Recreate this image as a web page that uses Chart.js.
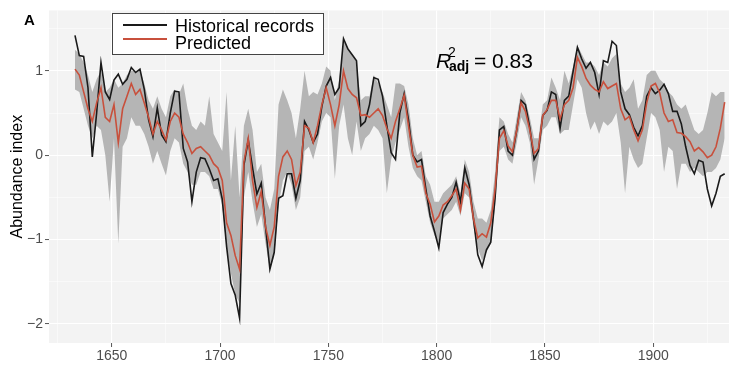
<!DOCTYPE html>
<html>
<head>
<meta charset="utf-8">
<script src="https://cdn.jsdelivr.net/npm/chart.js@4.4.1/dist/chart.umd.min.js"></script>
<style>
  html, body { margin: 0; padding: 0; background: #ffffff; }
  #wrap { width: 736px; height: 366px; position: relative; }
</style>
</head>
<body>
<div id="wrap"><canvas id="grafica_abundancia"></canvas></div>
<script>
// years (every second year)
const years = [
  1633,1635,1637,1639,1641,1643,1645,1647,1649,1651,
  1653,1655,1657,1659,1661,1663,1665,1667,1669,1671,
  1673,1675,1677,1679,1681,1683,1685,1687,1689,1691,
  1693,1695,1697,1699,1701,1703,1705,1707,1709,1711,
  1713,1715,1717,1719,1721,1723,1725,1727,1729,1731,
  1733,1735,1737,1739,1741,1743,1745,1747,1749,1751,
  1753,1755,1757,1759,1761,1763,1765,1767,1769,1771,
  1773,1775,1777,1779,1781,1783,1785,1787,1789,1791,
  1793,1795,1797,1799,1801,1803,1805,1807,1809,1811,
  1813,1815,1817,1819,1821,1823,1825,1827,1829,1831,
  1833,1835,1837,1839,1841,1843,1845,1847,1849,1851,
  1853,1855,1857,1859,1861,1863,1865,1867,1869,1871,
  1873,1875,1877,1879,1881,1883,1885,1887,1889,1891,
  1893,1895,1897,1899,1901,1903,1905,1907,1909,1911,
  1913,1915,1917,1919,1921,1923,1925,1927,1929,1931,
  1933
];

// Historical records (black)
const historical = [
  1.42,1.18,1.17,0.80,-0.02,0.50,1.10,0.75,0.66,0.89,
  0.96,0.84,0.90,1.04,0.98,1.02,0.78,0.42,0.22,0.56,
  0.24,0.16,0.50,0.76,0.75,0.08,-0.08,-0.55,-0.20,-0.03,
  -0.04,-0.16,-0.30,-0.28,-0.52,-1.08,-1.52,-1.66,-1.93,-0.12,
  0.18,-0.15,-0.46,-0.33,-0.85,-1.35,-1.15,-0.51,-0.48,-0.22,
  -0.22,-0.51,-0.30,0.40,0.30,0.15,0.25,0.58,0.82,0.92,
  0.72,0.80,1.38,1.26,1.19,1.12,0.35,0.40,0.60,0.92,
  0.90,0.70,0.35,0.03,-0.05,0.50,0.73,0.42,0.00,-0.08,
  -0.05,-0.40,-0.72,-0.90,-1.10,-0.68,-0.58,-0.50,-0.32,-0.55,
  -0.15,-0.35,-0.75,-1.18,-1.32,-1.12,-1.03,-0.50,0.30,0.34,
  0.05,0.00,0.30,0.65,0.60,0.33,-0.05,0.05,0.47,0.53,
  0.75,0.72,0.32,0.65,0.70,0.99,1.28,1.14,1.03,1.10,
  0.98,0.72,1.12,1.10,1.35,1.30,0.75,0.55,0.48,0.33,
  0.23,0.35,0.70,0.80,0.73,0.77,0.84,0.73,0.52,0.52,
  0.37,0.10,-0.12,-0.22,-0.06,-0.08,-0.40,-0.60,-0.45,-0.25,
  -0.22
];

// Predicted (red)
const predicted = [
  1.02,0.95,0.75,0.55,0.40,0.62,0.80,0.45,0.40,0.60,
  0.15,0.55,0.70,0.85,0.72,0.78,0.62,0.45,0.25,0.40,
  0.30,0.18,0.40,0.50,0.45,0.25,0.15,0.02,0.08,0.10,
  0.05,0.00,-0.10,-0.15,-0.30,-0.80,-0.95,-1.19,-1.35,-0.08,
  0.20,-0.30,-0.62,-0.43,-0.85,-1.07,-0.85,-0.25,-0.02,0.05,
  -0.05,-0.36,-0.20,0.35,0.32,0.15,0.35,0.60,0.80,0.60,
  0.35,0.60,1.00,0.79,0.72,0.68,0.47,0.48,0.45,0.50,
  0.55,0.47,0.32,0.20,0.40,0.55,0.71,0.35,0.00,-0.14,
  -0.13,-0.45,-0.58,-0.79,-0.72,-0.59,-0.55,-0.48,-0.40,-0.65,
  -0.33,-0.40,-0.75,-0.98,-0.93,-0.97,-0.80,-0.40,0.20,0.29,
  0.11,0.04,0.30,0.62,0.52,0.30,0.02,0.08,0.47,0.54,
  0.65,0.65,0.43,0.60,0.65,0.80,1.16,1.05,0.91,0.83,
  0.78,0.75,0.87,0.79,0.82,0.85,0.55,0.42,0.46,0.30,
  0.17,0.30,0.62,0.82,0.85,0.74,0.50,0.40,0.42,0.27,
  0.26,0.22,0.16,0.05,0.09,0.04,-0.03,0.00,0.10,0.32,
  0.63
];

// Prediction band (grey)
const lowerBand = [
  0.78,0.75,0.55,0.35,0.20,0.35,0.30,0.00,-0.55,0.20,
  -1.05,0.10,0.20,0.45,0.35,0.35,0.25,0.10,-0.10,0.05,
  -0.10,-0.24,0.05,0.20,0.15,-0.10,-0.20,-0.35,-0.35,-0.20,
  -0.20,-0.25,-0.40,-0.40,-0.60,-1.10,-1.40,-1.65,-1.75,-0.50,
  -0.20,-0.55,-0.85,-0.70,-1.05,-1.35,-1.20,-0.60,-0.30,-0.20,
  -0.35,-0.65,-0.50,0.05,0.10,-0.05,0.15,0.40,0.50,0.45,
  -0.28,0.35,0.60,0.20,0.00,0.40,0.05,0.20,0.25,0.35,
  0.30,0.20,-0.45,-0.05,0.15,0.30,0.45,0.10,-0.15,-0.25,
  -0.30,-0.55,-0.80,-0.95,-1.05,-0.75,-0.70,-0.65,-0.55,-0.72,
  -0.45,-0.50,-0.85,-1.10,-1.25,-1.15,-1.05,-0.60,0.05,0.10,
  -0.05,-0.10,0.15,0.45,0.35,0.15,-0.35,-0.05,0.30,0.35,
  0.45,0.45,0.25,0.30,0.30,0.60,0.90,0.80,0.50,0.30,
  0.40,0.25,0.40,0.35,0.40,0.50,0.15,-0.45,0.10,-0.05,
  -0.15,-0.10,0.20,0.50,0.45,0.30,-0.20,0.10,0.05,-0.40,
  -0.10,-0.10,-0.20,-0.15,-0.20,-0.25,-0.20,-0.20,-0.15,-0.05,
  0.20
];
const upperBand = [
  1.25,1.20,1.10,0.95,0.75,0.90,1.00,0.75,0.80,0.90,
  0.80,0.85,0.95,1.00,1.00,1.00,0.85,0.65,0.55,0.70,
  0.55,0.45,0.70,0.78,0.72,0.85,0.55,0.35,0.30,0.40,
  0.35,0.70,0.25,0.15,0.05,0.75,-0.30,0.35,-0.50,0.35,
  0.55,0.30,-0.20,-0.10,-0.50,-0.65,-0.40,0.60,0.78,0.65,
  0.50,0.20,0.55,1.00,0.70,0.75,0.72,0.85,1.05,1.00,
  0.65,0.90,1.35,1.28,1.20,1.10,0.65,0.70,0.70,0.95,
  0.85,0.75,0.60,0.45,0.85,0.85,0.82,0.60,0.20,0.00,
  0.05,-0.25,-0.35,-0.55,-0.55,-0.45,-0.40,-0.35,-0.25,-0.45,
  -0.05,-0.20,-0.55,-0.75,-0.75,-0.80,-0.65,-0.20,0.45,0.40,
  0.25,0.15,0.45,0.75,0.65,0.45,0.20,0.20,0.60,0.65,
  0.92,0.80,0.65,1.00,0.85,1.05,1.30,1.20,1.10,1.10,
  1.05,0.95,1.10,1.05,1.15,1.20,0.85,0.75,0.80,0.90,
  0.55,0.65,0.95,1.00,1.00,0.90,0.85,0.75,0.70,0.60,
  0.55,0.60,0.45,0.30,0.25,0.30,0.50,0.75,0.70,0.75,
  0.75
];

// axis ticks / grid
const xGrid = [1625,1650,1675,1700,1725,1750,1775,1800,1825,1850,1875,1900,1925];
const xLabels = [1650,1700,1750,1800,1850,1900];
const yGrid = [-2,-1.5,-1,-0.5,0,0.5,1,1.5];
const yLabels = [-2,-1,0,1];

const FONT = "'Liberation Sans', Arial, Helvetica, sans-serif";

document.addEventListener("DOMContentLoaded", () => {
	Grafica();
});

function toPoints(values) {
	return years.map((yr, i) => ({ x: yr, y: values[i] }));
}

//Panel background
const panelFondo = {
	id: 'panelFondo',
	beforeDraw(chart) {
		const { ctx, chartArea: a } = chart;
		ctx.save();
		ctx.fillStyle = '#f3f3f3';
		ctx.fillRect(a.left, a.top, a.right - a.left, a.bottom - a.top);
		ctx.restore();
	}
};

//Legend + R2 text + panel letter
const textos = {
	id: 'textos',
	afterDraw(chart) {
		const ctx = chart.ctx;
		ctx.save();
		ctx.fillStyle = '#000';
		ctx.font = 'bold 15px ' + FONT;
		ctx.textBaseline = 'alphabetic';
		ctx.fillText('A', 24, 25);

		// legend box
		ctx.fillStyle = '#ffffff';
		ctx.fillRect(112, 13, 211, 41);
		ctx.strokeStyle = '#444';
		ctx.lineWidth = 1;
		ctx.strokeRect(112.5, 13.5, 211, 41);

		ctx.lineWidth = 2;
		ctx.strokeStyle = '#1a1a1a';
		ctx.beginPath(); ctx.moveTo(123, 25); ctx.lineTo(167, 25); ctx.stroke();
		ctx.strokeStyle = '#c8503c';
		ctx.beginPath(); ctx.moveTo(123, 39); ctx.lineTo(167, 39); ctx.stroke();

		ctx.fillStyle = '#000';
		ctx.font = '18px ' + FONT;
		ctx.fillText('Historical records', 175, 32);
		ctx.fillText('Predicted', 175, 49);

		// R2adj
		ctx.font = 'italic 21px ' + FONT;
		ctx.fillText('R', 436, 68);
		ctx.font = '14px ' + FONT;
		ctx.fillText('2', 448, 57);
		ctx.font = 'bold 14px ' + FONT;
		ctx.fillText('adj', 449, 71);
		ctx.font = '21px ' + FONT;
		ctx.fillText('= 0.83', 474, 68);
		ctx.restore();
	}
};

function Grafica() {
	const canvas = document.getElementById('grafica_abundancia');
	const canvas2d = canvas.getContext('2d');

	var chart = new Chart(canvas2d, {
		type: 'line',
		data: {
			datasets: [
				{
					label: 'Predicted',
					data: toPoints(predicted),
					borderColor: '#c8503c',
					borderWidth: 1.6,
					pointRadius: 0,
					fill: false,
					order: 0
				},
				{
					label: 'Historical records',
					data: toPoints(historical),
					borderColor: '#1a1a1a',
					borderWidth: 1.6,
					pointRadius: 0,
					fill: false,
					order: 1
				},
				{
					label: 'upper',
					data: toPoints(upperBand),
					borderColor: 'rgba(0,0,0,0)',
					borderWidth: 0,
					backgroundColor: '#b5b5b5',
					pointRadius: 0,
					fill: '+1',
					order: 2
				},
				{
					label: 'lower',
					data: toPoints(lowerBand),
					borderColor: 'rgba(0,0,0,0)',
					borderWidth: 0,
					pointRadius: 0,
					fill: false,
					order: 3
				}
			]
		},
		options: {
			responsive: true,
			maintainAspectRatio: false,
			animation: false,
			layout: { padding: { top: 10, right: 7, left: 0, bottom: 0 } },
			plugins: {
				legend: { display: false },
				tooltip: { enabled: false }
			},
			scales: {
				x: {
					type: 'linear',
					min: 1621,
					max: 1935,
					afterBuildTicks: (scale) => { scale.ticks = xGrid.map(v => ({ value: v })); },
					afterFit: (scale) => { scale.height = 23; },
					border: { display: false },
					grid: {
						color: '#ffffff',
						lineWidth: (c) => (c.tick && xLabels.includes(c.tick.value)) ? 1.1 : 0.5,
						tickColor: (c) => (c.tick && xLabels.includes(c.tick.value)) ? '#555' : 'rgba(0,0,0,0)',
						tickLength: 4,
						tickWidth: 1
					},
					ticks: {
						autoSkip: false,
						maxRotation: 0,
						padding: 1,
						color: '#4d4d4d',
						font: { family: FONT, size: 14 },
						callback: (v) => xLabels.includes(v) ? String(v) : ''
					}
				},
				y: {
					min: -2.225,
					max: 1.716,
					afterBuildTicks: (scale) => { scale.ticks = yGrid.map(v => ({ value: v })); },
					afterFit: (scale) => { scale.width = 49; },
					border: { display: false },
					grid: {
						color: '#ffffff',
						lineWidth: (c) => (c.tick && yLabels.includes(c.tick.value)) ? 1.1 : 0.5,
						tickColor: (c) => (c.tick && yLabels.includes(c.tick.value)) ? '#555' : 'rgba(0,0,0,0)',
						tickLength: 4,
						tickWidth: 1
					},
					ticks: {
						autoSkip: false,
						padding: 2,
						color: '#4d4d4d',
						font: { family: FONT, size: 14 },
						callback: (v) => yLabels.includes(v) ? (v < 0 ? '\u2212' + Math.abs(v) : String(v)) : ''
					},
					title: {
						display: true,
						text: 'Abundance index',
						color: '#000',
						font: { family: FONT, size: 16 },
						padding: { top: 8, bottom: 0 }
					}
				}
			}
		},
		plugins: [panelFondo, textos]
	});
}
</script>
</body>
</html>
